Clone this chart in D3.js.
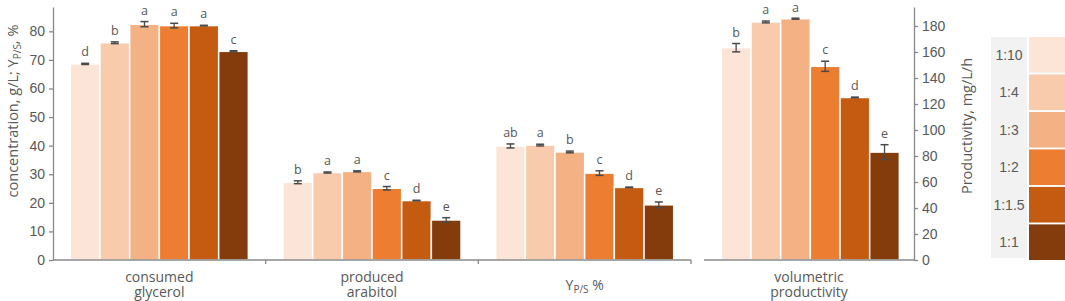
<!DOCTYPE html>
<html>
<head>
<meta charset="utf-8">
<script src="https://cdn.jsdelivr.net/npm/d3@7"></script>
<style>
  body { margin: 0; background: #fff; }
  svg { display: block; }
</style>
</head>
<body>
<div id="container"></div>
<script>
// datos
const ratios = ["1:10", "1:4", "1:3", "1:2", "1:1.5", "1:1"];
const colors = ["#FCE4D6", "#F8CBAD", "#F4B183", "#ED7D31", "#C55A11", "#843C0C"];

const categories = ["consumed glycerol", "produced arabitol", "Y_P/S %"];
const glycerol     = [68.6, 76.0, 82.5, 82.0, 82.0, 73.0];
const glycerolErr  = [0.2, 0.3, 0.9, 0.8, 0.1, 0.2];
const glycerolLet  = ["d", "b", "a", "a", "a", "c"];
const arabitol     = [27.2, 30.6, 31.0, 25.1, 20.8, 14.0];
const arabitolErr  = [0.5, 0.2, 0.2, 0.6, 0.1, 0.8];
const arabitolLet  = ["b", "a", "a", "c", "d", "e"];
const yieldPS      = [39.9, 40.2, 37.8, 30.4, 25.4, 19.3];
const yieldErr     = [0.7, 0.3, 0.3, 0.8, 0.1, 1.0];
const yieldLet     = ["ab", "a", "b", "c", "d", "e"];

const prodCategory = ["volumetric productivity"];
const productivity = [163.3, 183.1, 185.6, 149.0, 125.0, 83.0];
const prodErr      = [3.2, 0.7, 0.4, 3.9, 0.3, 5.7];
const prodLet      = ["b", "a", "a", "c", "d", "e"];

const leftTicks  = [0, 10, 20, 30, 40, 50, 60, 70, 80];
const rightTicks = [0, 20, 40, 60, 80, 100, 120, 140, 160, 180];

const WIDTH = 1065, HEIGHT = 301;
const plotTop = 7, plotBottom = 260;
const axisColor = "#898989", textColor = "#595959", errColor = "#4a4a4a";

const svg = d3.select("#container").append("svg")
    .attr("width", WIDTH).attr("height", HEIGHT);

// escalas
const yLeft = d3.scaleLinear().domain([0, 88.5]).range([plotBottom, plotTop]);
const yRight = d3.scaleLinear().domain([0, 194.6]).range([plotBottom, plotTop]);
const xLeft = d3.scaleBand().domain(categories).range([53, 691]);
const xRight = d3.scaleBand().domain(prodCategory).range([704, 914]);
const pad = 17.3;
const xInner = d3.scaleBand().domain(ratios).range([pad, xLeft.bandwidth() - pad]);

const leftData = [
  {cat: categories[0], vals: glycerol, errs: glycerolErr, lets: glycerolLet},
  {cat: categories[1], vals: arabitol, errs: arabitolErr, lets: arabitolLet},
  {cat: categories[2], vals: yieldPS, errs: yieldErr, lets: yieldLet}
];
const rightData = [
  {cat: prodCategory[0], vals: productivity, errs: prodErr, lets: prodLet}
];

const drawGroups = (data, xs, ys) => {
  data.forEach(g => {
    const gx = xs(g.cat);
    const rows = ratios.map((r, i) => ({r, i, v: g.vals[i], e: g.errs[i], l: g.lets[i]}));
    const grp = svg.append("g").attr("transform", `translate(${gx},0)`);
    grp.selectAll("rect").data(rows).join("rect")
      .attr("x", d => xInner(d.r))
      .attr("width", xInner.bandwidth())
      .attr("y", d => ys(d.v))
      .attr("height", d => ys(0) - ys(d.v))
      .attr("fill", d => colors[d.i])
      .attr("stroke", "#fff")
      .attr("stroke-width", 1.5);
    const cx = d => xInner(d.r) + xInner.bandwidth() / 2;
    grp.selectAll("line.err").data(rows).join("line").attr("class", "err")
      .attr("x1", cx).attr("x2", cx)
      .attr("y1", d => ys(d.v - d.e)).attr("y2", d => ys(d.v + d.e))
      .attr("stroke", errColor).attr("stroke-width", 1.3);
    grp.selectAll("line.capT").data(rows).join("line").attr("class", "capT")
      .attr("x1", d => cx(d) - 4).attr("x2", d => cx(d) + 4)
      .attr("y1", d => ys(d.v + d.e)).attr("y2", d => ys(d.v + d.e))
      .attr("stroke", errColor).attr("stroke-width", 1.5);
    grp.selectAll("line.capB").data(rows).join("line").attr("class", "capB")
      .attr("x1", d => cx(d) - 4).attr("x2", d => cx(d) + 4)
      .attr("y1", d => ys(d.v - d.e)).attr("y2", d => ys(d.v - d.e))
      .attr("stroke", errColor).attr("stroke-width", 1.5);
    grp.selectAll("text").data(rows).join("text")
      .attr("x", cx)
      .attr("y", d => Math.max(ys(d.v + d.e) - 7, 11.5))
      .attr("text-anchor", "middle")
      .attr("font-family", "'Open Sans', sans-serif")
      .attr("font-size", 12.5)
      .attr("fill", textColor)
      .text(d => d.l);
  });
};

drawGroups(leftData, xLeft, yLeft);
drawGroups(rightData, xRight, yRight);

// ejes Y
const axisStyle = g => {
  g.select(".domain").attr("stroke", axisColor).attr("stroke-width", 1.3);
  g.selectAll(".tick line").attr("stroke", axisColor).attr("stroke-width", 1.3);
  g.selectAll(".tick text").attr("fill", textColor)
    .attr("font-family", "'Liberation Sans', Arial, sans-serif").attr("font-size", 14);
};
svg.append("g").attr("transform", "translate(53,0)")
  .call(d3.axisLeft(yLeft).tickValues(leftTicks).tickSize(4).tickSizeOuter(0).tickPadding(4))
  .call(axisStyle);
svg.append("g").attr("transform", "translate(914,0)")
  .call(d3.axisRight(yRight).tickValues(rightTicks).tickSize(4).tickSizeOuter(0).tickPadding(4))
  .call(axisStyle);

// ejes X
[[xLeft, categories], [xRight, prodCategory]].forEach(([xs, cats]) => {
  const [x0, x1] = xs.range();
  svg.append("line").attr("x1", x0).attr("x2", x1).attr("y1", plotBottom).attr("y2", plotBottom)
    .attr("stroke", axisColor).attr("stroke-width", 1.3);
  if (xs === xLeft) {
    cats.forEach(c => {
      const bx = xs(c) + xs.bandwidth();
      svg.append("line").attr("x1", bx).attr("x2", bx).attr("y1", plotBottom).attr("y2", plotBottom + 4)
        .attr("stroke", axisColor).attr("stroke-width", 1.3);
    });
  }
  cats.forEach(c => {
    const cxl = xs(c) + xs.bandwidth() / 2;
    if (c === "Y_P/S %") {
      const t = svg.append("text")
        .attr("x", cxl).attr("y", 290)
        .attr("text-anchor", "middle")
        .attr("font-family", "'Open Sans', sans-serif")
        .attr("font-size", 14)
        .attr("fill", textColor);
      t.append("tspan").text("Y");
      t.append("tspan").attr("font-size", 10).attr("dy", 3).text("P/S");
      t.append("tspan").attr("dy", -3).text(" %");
    } else {
      c.split(" ").forEach((w, k) => {
        svg.append("text")
          .attr("x", cxl).attr("y", 282 + k * 15)
          .attr("text-anchor", "middle")
          .attr("font-family", "'Open Sans', sans-serif")
          .attr("font-size", 14)
          .attr("fill", textColor)
          .text(w);
      });
    }
  });
});

// titulos de ejes
const lt = svg.append("text")
  .attr("transform", "translate(18,111) rotate(-90)")
  .attr("text-anchor", "middle")
  .attr("font-family", "'Open Sans', sans-serif")
  .attr("font-size", 14.5)
  .attr("fill", textColor);
lt.append("tspan").text("concentration, g/L; Y");
lt.append("tspan").attr("font-size", 10).attr("dy", 3).text("P/S");
lt.append("tspan").attr("dy", -3).text(", %");

svg.append("text")
  .attr("transform", "translate(972,126) rotate(-90)")
  .attr("text-anchor", "middle")
  .attr("font-family", "'Open Sans', sans-serif")
  .attr("font-size", 14.5)
  .attr("fill", textColor)
  .text("Productivity, mg/L/h");

// leyenda
const yLeg = d3.scaleBand().domain(ratios).range([37, 260]).paddingInner(0.05);
svg.append("rect").attr("x", 991).attr("y", 37).attr("width", 36).attr("height", 221)
  .attr("fill", "#F2F2F2");
const leg = svg.append("g");
leg.selectAll("rect").data(ratios).join("rect")
  .attr("x", 1029).attr("width", 36)
  .attr("y", d => yLeg(d)).attr("height", yLeg.bandwidth())
  .attr("fill", (d, i) => colors[i]);
leg.selectAll("text").data(ratios).join("text")
  .attr("x", 1009)
  .attr("y", d => yLeg(d) + yLeg.bandwidth() / 2 + 5)
  .attr("text-anchor", "middle")
  .attr("font-family", "'Liberation Sans', Arial, sans-serif")
  .attr("font-size", 14)
  .attr("fill", textColor)
  .text(d => d);
</script>
</body>
</html>
